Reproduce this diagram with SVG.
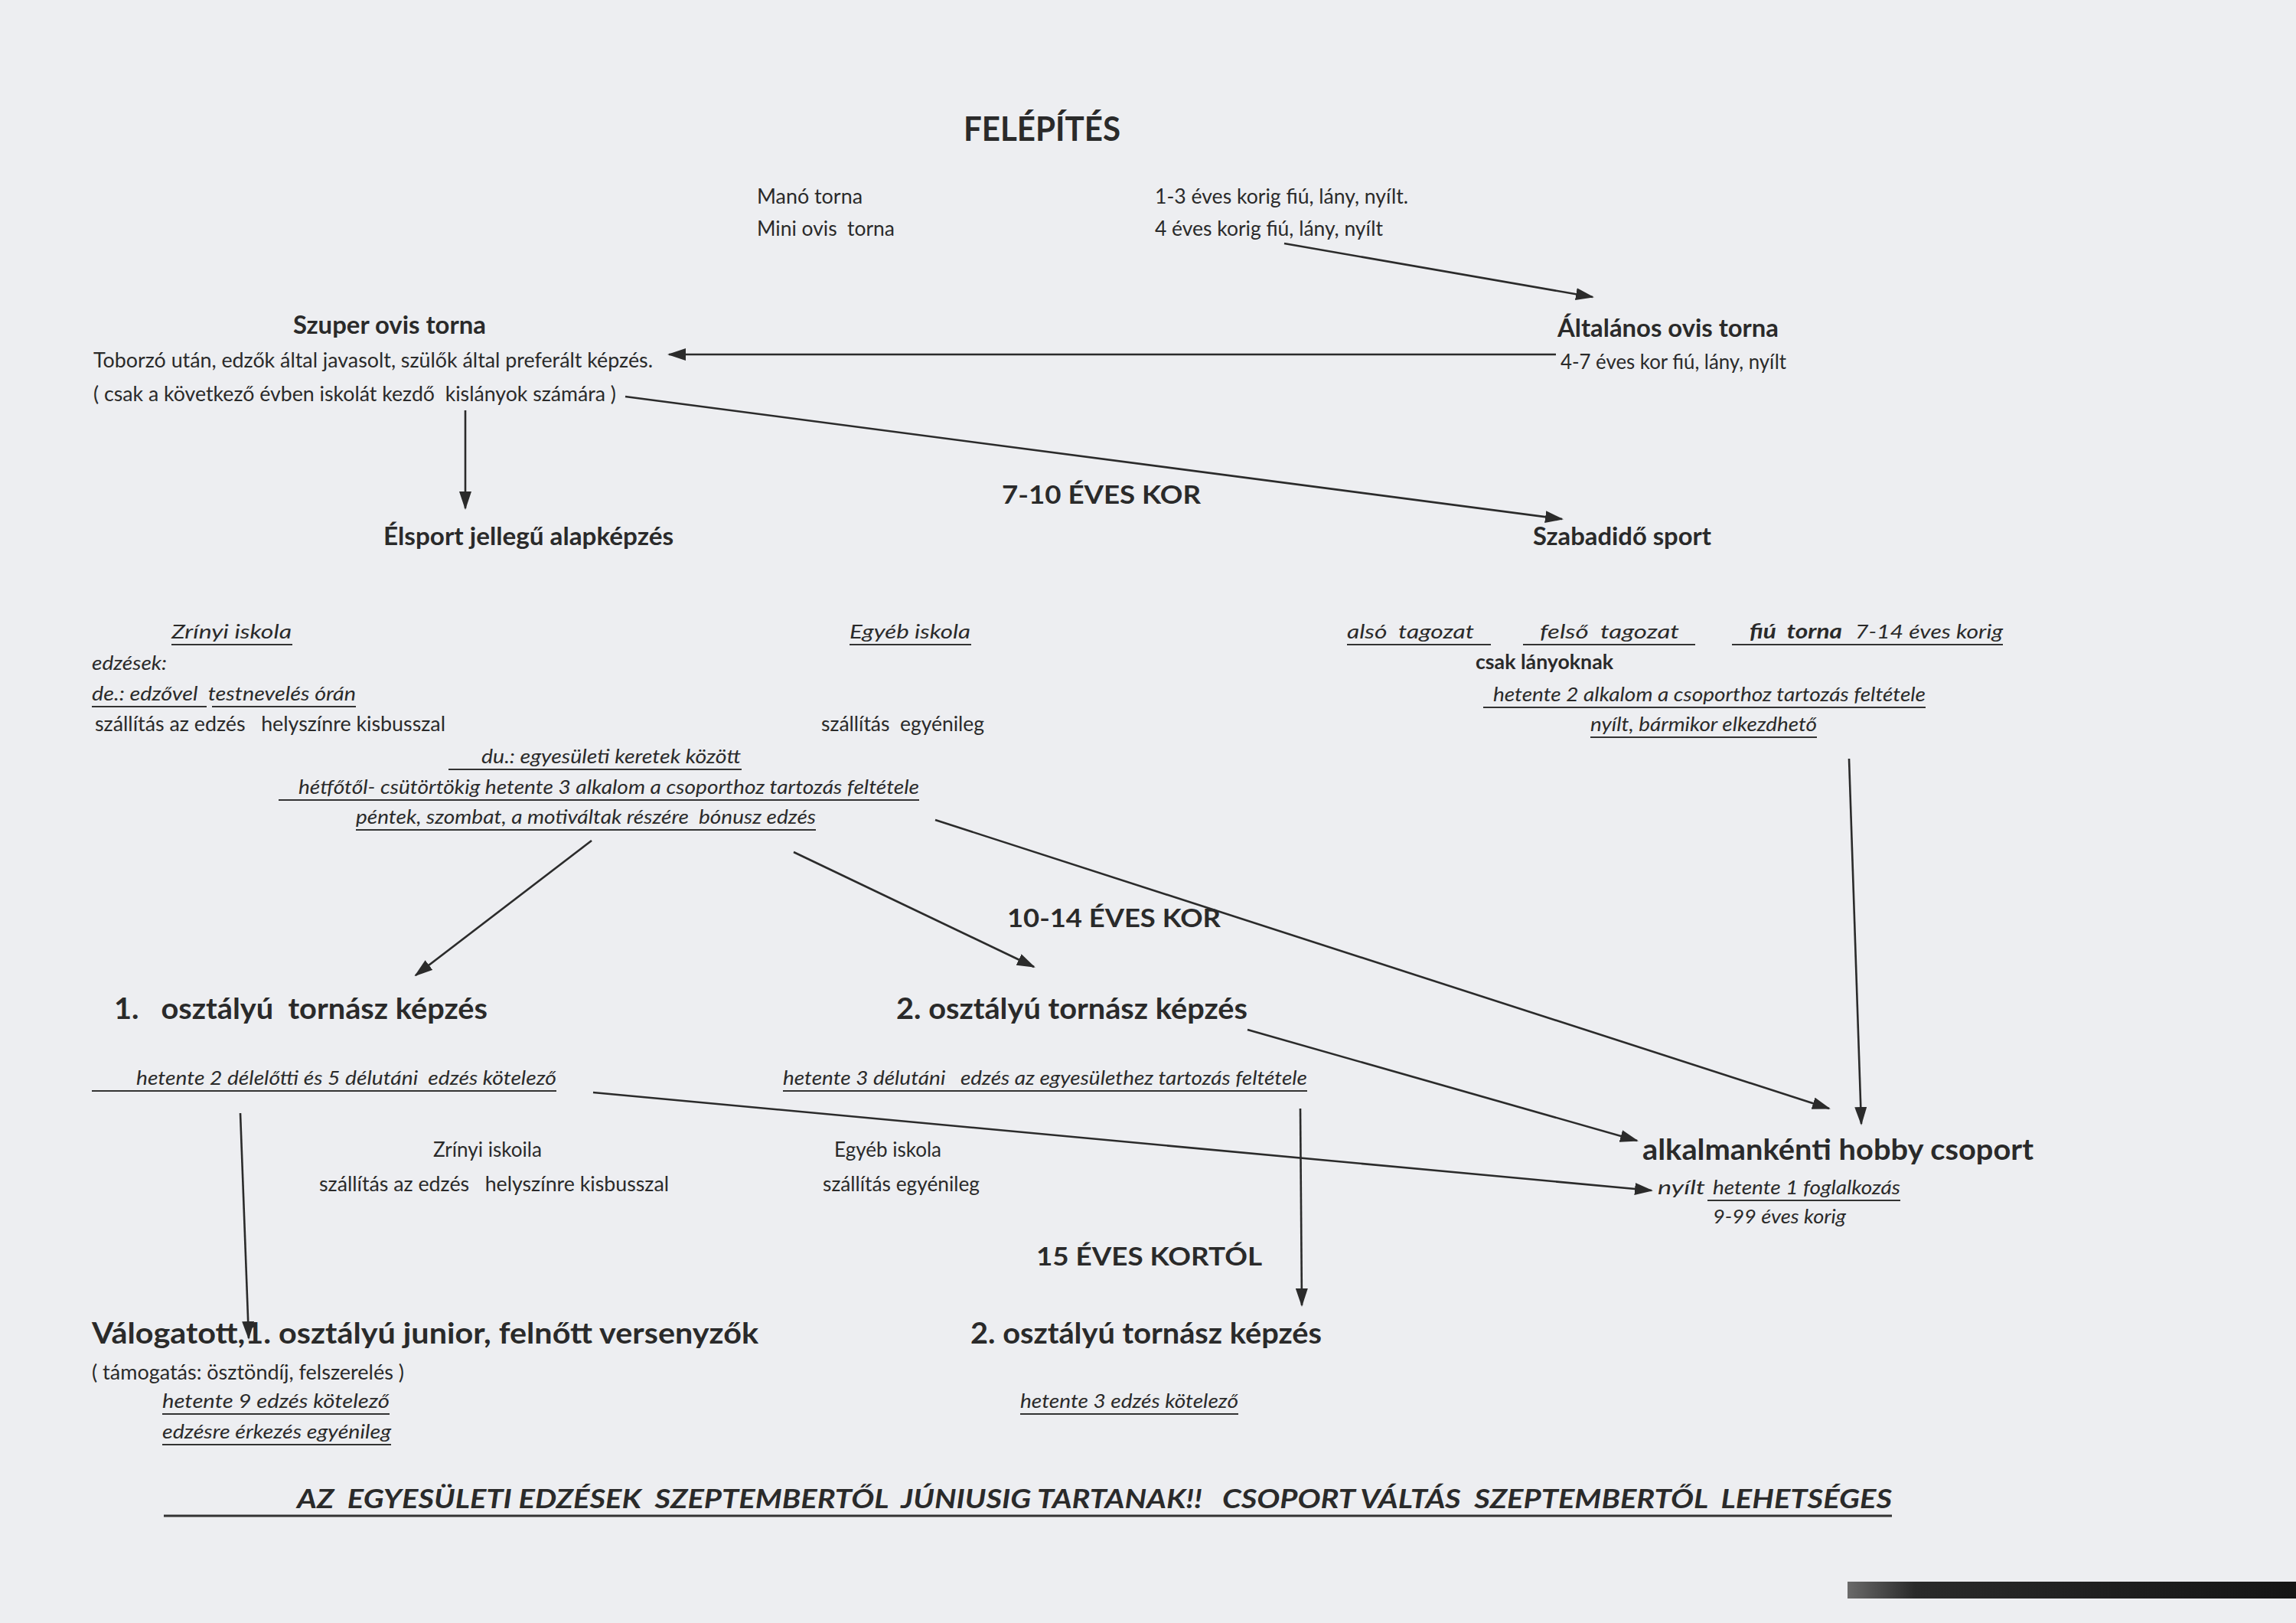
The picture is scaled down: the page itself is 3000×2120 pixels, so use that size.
<svg xmlns="http://www.w3.org/2000/svg" width="3000" height="2120" viewBox="0 0 3000 2120">
<defs>
<style>
text{font-family:Lato,"Liberation Sans",sans-serif;fill:#2a2a2a;white-space:pre}
.r{font-size:26px}
.i{font-size:26px;font-style:italic}
.b{font-weight:bold;font-size:32px}
.bb{font-weight:bold;font-size:38px}
.t{font-weight:bold;font-size:44px}
.bi{font-weight:bold;font-style:italic}
.u{stroke:#333;stroke-width:2.2}
.c line{stroke:#2b2b2b;stroke-width:2.6;marker-end:url(#ah)}
</style>
<marker id="ah" markerWidth="24" markerHeight="16" refX="22" refY="8" orient="auto" markerUnits="userSpaceOnUse"><path d="M0,0 L24,8 L0,16 z" fill="#2b2b2b"/></marker>
<linearGradient id="bar" x1="0" y1="0" x2="1" y2="0"><stop offset="0" stop-color="#6a6a6a"/><stop offset="0.15" stop-color="#2a2a2a"/><stop offset="1" stop-color="#151515"/></linearGradient>
</defs>
<rect width="3000" height="2120" fill="#edeef1"/>
<rect x="2414" y="2066" width="586" height="22" fill="url(#bar)"/>

<g id="title"><text class="t" x="1259" y="184" textLength="205" lengthAdjust="spacingAndGlyphs">FELÉPÍTÉS</text></g>

<g id="mano"><text class="r" x="989" y="266" textLength="138" lengthAdjust="spacingAndGlyphs">Manó torna</text>
<text class="r" x="1509" y="266" textLength="331" lengthAdjust="spacingAndGlyphs">1-3 éves korig fiú, lány, nyílt.</text></g>
<g id="mini"><text class="r" x="989" y="308" textLength="180" lengthAdjust="spacingAndGlyphs">Mini ovis  torna</text>
<text class="r" x="1509" y="308" textLength="298" lengthAdjust="spacingAndGlyphs">4 éves korig fiú, lány, nyílt</text></g>

<g id="szuper">
<text class="b" x="383" y="436" textLength="252" lengthAdjust="spacingAndGlyphs">Szuper ovis torna</text>
<text class="r" x="122" y="480" textLength="731" lengthAdjust="spacingAndGlyphs">Toborzó után, edzők által javasolt, szülők által preferált képzés.</text>
<text class="r" x="122" y="524" textLength="683" lengthAdjust="spacingAndGlyphs">( csak a következő évben iskolát kezdő  kislányok számára )</text>
</g>

<g id="altalanos">
<text class="b" x="2035" y="440" textLength="289" lengthAdjust="spacingAndGlyphs">Általános ovis torna</text>
<text class="r" x="2039" y="482" textLength="295" lengthAdjust="spacingAndGlyphs">4-7 éves kor fiú, lány, nyílt</text>
</g>

<g id="kor710"><text class="b" x="1309" y="658" textLength="260" lengthAdjust="spacingAndGlyphs">7-10 ÉVES KOR</text></g>
<g id="elsport"><text class="b" x="501" y="712" textLength="379" lengthAdjust="spacingAndGlyphs">Élsport jellegű alapképzés</text></g>
<g id="szabadido"><text class="b" x="2003" y="712" textLength="233" lengthAdjust="spacingAndGlyphs">Szabadidő sport</text></g>

<g id="zrinyi">
<text class="i" x="224" y="834" textLength="157" lengthAdjust="spacingAndGlyphs">Zrínyi iskola</text>
<line class="u" x1="224" y1="842" x2="382" y2="842"/>
<text class="i" x="120" y="875" textLength="98" lengthAdjust="spacingAndGlyphs">edzések:</text>
<text class="i" x="120" y="915" textLength="345" lengthAdjust="spacingAndGlyphs">de.: edzővel  testnevelés órán</text>
<line class="u" x1="120" y1="923" x2="270" y2="923"/><line class="u" x1="277" y1="923" x2="465" y2="923"/>
<text class="r" x="124" y="955" textLength="458" lengthAdjust="spacingAndGlyphs">szállítás az edzés   helyszínre kisbusszal</text>
</g>

<g id="egyeb1">
<text class="i" x="1110" y="834" textLength="158" lengthAdjust="spacingAndGlyphs">Egyéb iskola</text>
<line class="u" x1="1110" y1="842" x2="1269" y2="842"/>
<text class="r" x="1073" y="955" textLength="213" lengthAdjust="spacingAndGlyphs">szállítás  egyénileg</text>
</g>

<g id="du">
<text class="i" x="629" y="997" textLength="339" lengthAdjust="spacingAndGlyphs">du.: egyesületi keretek között</text>
<line class="u" x1="586" y1="1005" x2="969" y2="1005"/>
<text class="i" x="390" y="1037" textLength="811" lengthAdjust="spacingAndGlyphs">hétfőtől- csütörtökig hetente 3 alkalom a csoporthoz tartozás feltétele</text>
<line class="u" x1="364" y1="1045" x2="1201" y2="1045"/>
<text class="i" x="465" y="1076" textLength="601" lengthAdjust="spacingAndGlyphs">péntek, szombat, a motiváltak részére  bónusz edzés</text>
<line class="u" x1="465" y1="1084" x2="1066" y2="1084"/>
</g>

<g id="tagozat">
<text class="i" x="1760" y="834" textLength="166" lengthAdjust="spacingAndGlyphs">alsó  tagozat</text>
<line class="u" x1="1760" y1="842" x2="1948" y2="842"/>
<text class="i" x="2012" y="834" textLength="182" lengthAdjust="spacingAndGlyphs">felső  tagozat</text>
<line class="u" x1="1990" y1="842" x2="2215" y2="842"/>
<text class="i bi" x="2286" y="834" font-size="26" textLength="121" lengthAdjust="spacingAndGlyphs">fiú  torna</text>
<text class="i" x="2424" y="834" textLength="193" lengthAdjust="spacingAndGlyphs">7-14 éves korig</text>
<line class="u" x1="2263" y1="842" x2="2617" y2="842"/>
<text class="r" x="1928" y="874" font-weight="bold" textLength="180" lengthAdjust="spacingAndGlyphs">csak lányoknak</text>
<text class="i" x="1951" y="916" textLength="565" lengthAdjust="spacingAndGlyphs">hetente 2 alkalom a csoporthoz tartozás feltétele</text>
<line class="u" x1="1938" y1="924" x2="2516" y2="924"/>
<text class="i" x="2078" y="955" textLength="296" lengthAdjust="spacingAndGlyphs">nyílt, bármikor elkezdhető</text>
<line class="u" x1="2078" y1="963" x2="2374" y2="963"/>
</g>

<g id="kor1014"><text class="b" x="1316" y="1211" textLength="279" lengthAdjust="spacingAndGlyphs">10-14 ÉVES KOR</text></g>

<g id="osztaly1">
<text class="bb" x="149" y="1331" textLength="488" lengthAdjust="spacingAndGlyphs">1.   osztályú  tornász képzés</text>
<text class="i" x="178" y="1417" textLength="549" lengthAdjust="spacingAndGlyphs">hetente 2 délelőtti és 5 délutáni  edzés kötelező</text>
<line class="u" x1="120" y1="1425" x2="727" y2="1425"/>
<text class="r" x="566" y="1511" textLength="142" lengthAdjust="spacingAndGlyphs">Zrínyi iskoila</text>
<text class="r" x="417" y="1556" textLength="457" lengthAdjust="spacingAndGlyphs">szállítás az edzés   helyszínre kisbusszal</text>
</g>

<g id="osztaly2">
<text class="bb" x="1171" y="1331" textLength="459" lengthAdjust="spacingAndGlyphs">2. osztályú tornász képzés</text>
<text class="i" x="1023" y="1417" textLength="685" lengthAdjust="spacingAndGlyphs">hetente 3 délutáni   edzés az egyesülethez tartozás feltétele</text>
<line class="u" x1="1023" y1="1425" x2="1708" y2="1425"/>
<text class="r" x="1090" y="1511" textLength="140" lengthAdjust="spacingAndGlyphs">Egyéb iskola</text>
<text class="r" x="1075" y="1556" textLength="205" lengthAdjust="spacingAndGlyphs">szállítás egyénileg</text>
</g>

<g id="hobby">
<text class="bb" x="2146" y="1515" textLength="511" lengthAdjust="spacingAndGlyphs">alkalmankénti hobby csoport</text>
<text class="i" x="2166" y="1560" textLength="62" lengthAdjust="spacingAndGlyphs">nyílt</text>
<text class="i" x="2238" y="1560" textLength="245" lengthAdjust="spacingAndGlyphs">hetente 1 foglalkozás</text>
<line class="u" x1="2231" y1="1568" x2="2483" y2="1568"/>
<text class="i" x="2238" y="1598" textLength="174" lengthAdjust="spacingAndGlyphs">9-99 éves korig</text>
</g>

<g id="kor15"><text class="b" x="1354" y="1653" textLength="295" lengthAdjust="spacingAndGlyphs">15 ÉVES KORTÓL</text></g>

<g id="valogatott">
<text class="bb" x="120" y="1755" textLength="871" lengthAdjust="spacingAndGlyphs">Válogatott,1. osztályú junior, felnőtt versenyzők</text>
<text class="r" x="120" y="1802" textLength="408" lengthAdjust="spacingAndGlyphs">( támogatás: ösztöndíj, felszerelés )</text>
<text class="i" x="212" y="1839" textLength="297" lengthAdjust="spacingAndGlyphs">hetente 9 edzés kötelező</text>
<line class="u" x1="212" y1="1847" x2="509" y2="1847"/>
<text class="i" x="212" y="1879" textLength="299" lengthAdjust="spacingAndGlyphs">edzésre érkezés egyénileg</text>
<line class="u" x1="212" y1="1887" x2="511" y2="1887"/>
</g>

<g id="osztaly2b">
<text class="bb" x="1268" y="1755" textLength="459" lengthAdjust="spacingAndGlyphs">2. osztályú tornász képzés</text>
<text class="i" x="1333" y="1839" textLength="285" lengthAdjust="spacingAndGlyphs">hetente 3 edzés kötelező</text>
<line class="u" x1="1333" y1="1847" x2="1618" y2="1847"/>
</g>

<g id="footer">
<text class="bi" x="388" y="1970" font-size="34" textLength="2084" lengthAdjust="spacingAndGlyphs">AZ  EGYESÜLETI EDZÉSEK  SZEPTEMBERTŐL  JÚNIUSIG TARTANAK!!   CSOPORT VÁLTÁS  SZEPTEMBERTŐL  LEHETSÉGES</text>
<line x1="214" y1="1980" x2="2472" y2="1980" stroke="#333" stroke-width="3"/>
</g>

<g id="connectors" class="c">
<line x1="1678" y1="318" x2="2081" y2="388"/>
<line x1="2033" y1="463" x2="874" y2="463"/>
<line x1="817" y1="518" x2="2041" y2="678"/>
<line x1="608" y1="536" x2="608" y2="664"/>
<line x1="2416" y1="991" x2="2432" y2="1468"/>
<line x1="773" y1="1098" x2="543" y2="1274"/>
<line x1="1037" y1="1113" x2="1351" y2="1263"/>
<line x1="1222" y1="1071" x2="2390" y2="1448"/>
<line x1="1630" y1="1345" x2="2139" y2="1490"/>
<line x1="775" y1="1427" x2="2158" y2="1555"/>
<line x1="314" y1="1454" x2="325" y2="1748"/>
<line x1="1699" y1="1448" x2="1701" y2="1705"/>
</g>
</svg>
